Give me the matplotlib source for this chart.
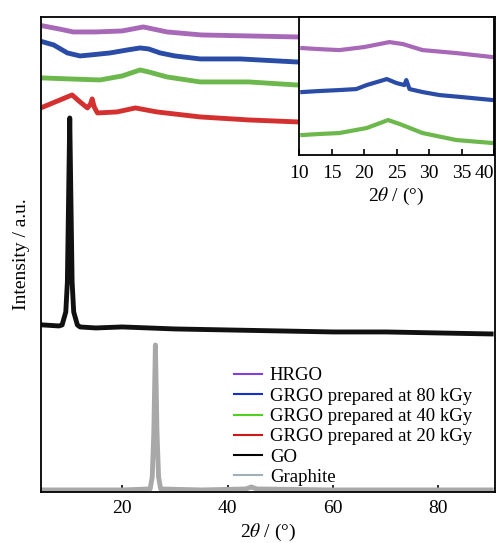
import matplotlib
matplotlib.use('Agg')
import matplotlib.pyplot as plt
from matplotlib.lines import Line2D

plt.rcParams['font.family'] = ['Liberation Serif', 'DejaVu Serif']
plt.rcParams['mathtext.fontset'] = 'stix'

# main panel curves (2theta in degrees, intensity in arbitrary stacked units)
x_hrgo = [5, 8, 10.7, 15, 20, 24, 28.5, 35, 44, 53, 60, 70, 80, 90]
y_hrgo = [466, 463, 460, 460, 461, 465, 460, 457, 456, 455, 455, 454, 454, 453]

x_80 = [5, 7, 9.6, 12, 14, 17.7, 21, 23.4, 25, 27.2, 30, 34.8, 42.4, 53, 60, 70, 80, 90]
y_80 = [450, 447, 439, 436, 437, 439, 442, 444, 443, 439, 436, 433, 433, 430, 430, 429, 429, 428]

x_40 = [5, 10, 15.8, 20, 23.4, 25, 28.5, 34.8, 44, 53, 60, 70, 80, 90]
y_40 = [414, 413, 412, 416, 422, 420, 415, 410, 410, 407, 407, 406, 406, 405]

x_20 = [5, 8.2, 10.5, 12, 13.4, 14.0, 14.3, 14.7, 15.3, 19, 22.5, 26.6, 34.8, 44, 53.4, 60, 70, 80, 90]
y_20 = [385, 392, 397, 390, 384, 388, 393, 385, 379, 380, 384, 380, 375, 372, 370, 369, 367, 366, 365]

x_go = [5, 8.0, 8.6, 9.3, 9.6, 9.85, 10.05, 10.25, 10.5, 10.8, 11.5, 12, 15, 20, 30, 40, 50, 60, 70, 80, 90]
y_go = [167, 166, 167, 180, 210, 300, 374, 300, 210, 180, 167, 165, 164, 165, 163, 162, 161, 160, 160, 159, 158]

x_gr = [5, 20, 25.3, 25.7, 26.0, 26.3, 26.6, 26.9, 27.3, 35, 43.5, 44.5, 45.5, 60, 90]
y_gr = [2, 2, 3, 15, 60, 147, 60, 15, 3, 2, 3, 5, 3, 2, 2]

# inset curves (10-40 degrees)
xi_hrgo = [10.5, 13, 16.2, 20, 23.9, 26, 29, 34.2, 39.8]
yi_hrgo = [107, 106, 105, 108, 113, 111, 105, 102, 98]

xi_80 = [10.5, 13, 16.2, 18.8, 20.4, 23.5, 25, 26.2, 26.5, 27, 29, 31.6, 35, 39.8]
yi_80 = [63, 64, 65, 66, 70, 76, 72, 70, 75, 66, 63, 60, 58, 55]

xi_40 = [10.5, 13, 16.2, 20.4, 23.7, 25.5, 29, 34.2, 39.8]
yi_40 = [20, 21, 22, 27, 35, 31, 22, 15, 12]

labels = ['HRGO', 'GRGO prepared at 80 kGy', 'GRGO prepared at 40 kGy',
          'GRGO prepared at 20 kGy', 'GO', 'Graphite']
curve_colors = ['#a868b8', '#2a4ca6', '#6cb84c', '#d43030', '#111111', '#a8a8a8']
legend_colors = ['#8040e0', '#1030d0', '#50d020', '#d01818', '#000000', '#a0b0b8']

fig = plt.figure(figsize=(4.96, 5.43), dpi=100)
ax = fig.add_axes([0.0827, 0.094, 0.915, 0.8748])

series = [(x_hrgo, y_hrgo), (x_80, y_80), (x_40, y_40), (x_20, y_20), (x_go, y_go), (x_gr, y_gr)]
for (xs, ys), c in zip(series, curve_colors):
    ax.plot(xs, ys, color=c, lw=3.5, solid_joinstyle='round')

ax.set_xlim(4.6, 90.7)
ax.set_ylim(0, 475)
ax.set_xticks([20, 40, 60, 80])
ax.set_yticks([])
ax.tick_params(axis='x', direction='in', length=5, width=1.2, labelsize=14, pad=6)
for s in ax.spines.values():
    s.set_linewidth(1.3)
ax.set_xlabel(r'2$\theta$ / (°)', fontsize=14, labelpad=3)
ax.set_ylabel('Intensity / a.u.', fontsize=14, labelpad=8)

handles = [Line2D([], [], color=c, lw=1.5) for c in legend_colors]
ax.legend(handles, labels, loc='upper left', bbox_to_anchor=(0.397, 0.29),
          frameon=False, fontsize=13.5, handlelength=1.5, handletextpad=0.4,
          labelspacing=0.17, borderpad=0.2)

# inset
axi = fig.add_axes([0.603, 0.7145, 0.393, 0.254])
for xs, ys, c in [(xi_hrgo, yi_hrgo, curve_colors[0]), (xi_80, yi_80, curve_colors[1]),
                  (xi_40, yi_40, curve_colors[2])]:
    axi.plot(xs, ys, color=c, lw=3)
axi.set_xlim(10, 40)
axi.set_ylim(0, 138)
axi.set_xticks([10, 15, 20, 25, 30, 35, 40])
axi.set_yticks([])
axi.tick_params(axis='x', direction='in', length=4, width=1.2, labelsize=14, pad=7)
axi.get_xticklabels()[-1].set_horizontalalignment('right')
for s in axi.spines.values():
    s.set_linewidth(1.3)
axi.set_xlabel(r'2$\theta$ / (°)', fontsize=14, labelpad=3)

fig.savefig('out.png', dpi=100)
